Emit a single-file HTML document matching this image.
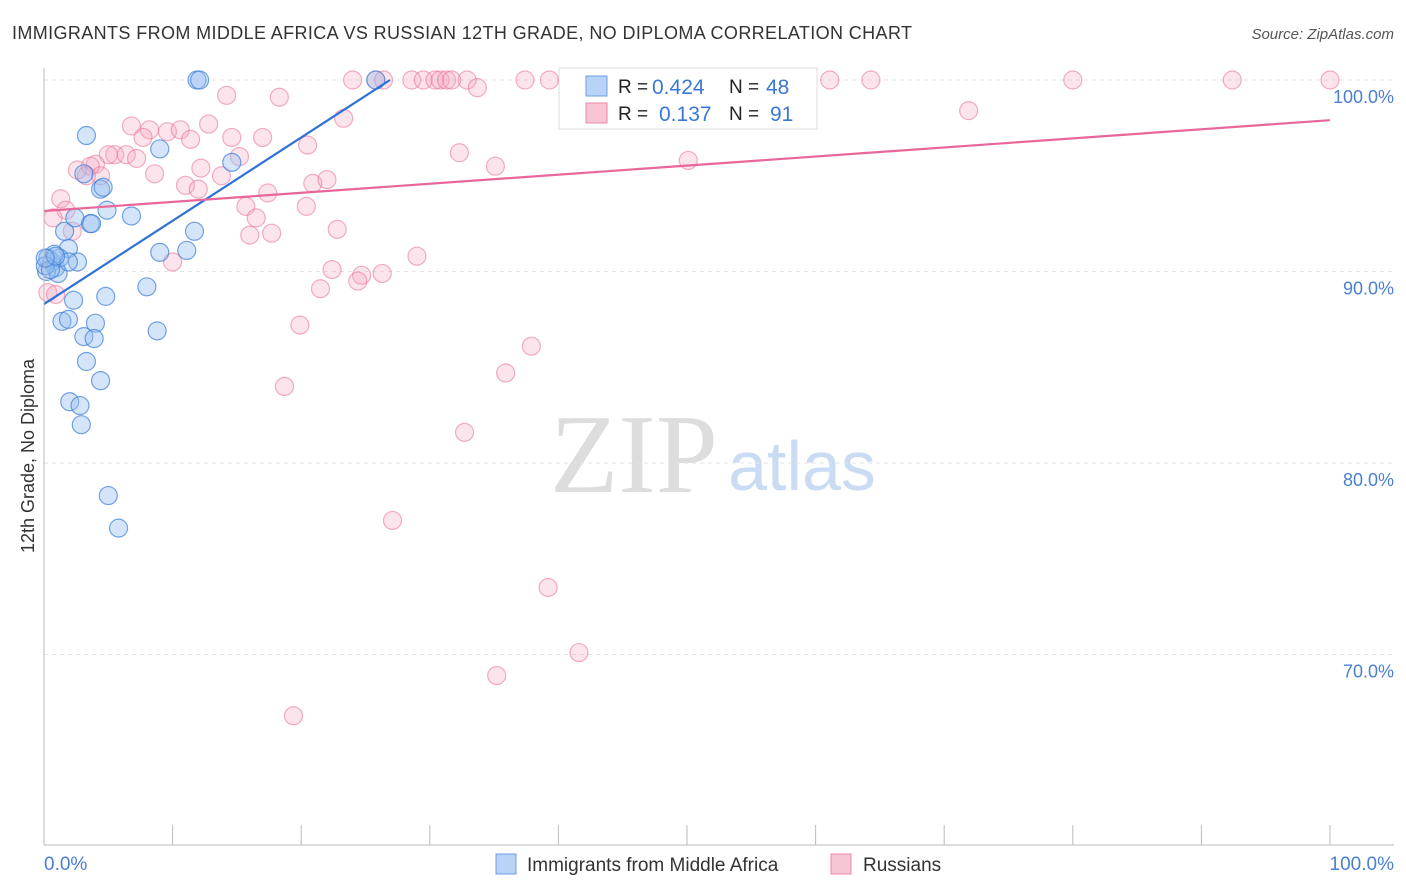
<!DOCTYPE html>
<html><head><meta charset="utf-8"><style>
body{margin:0;background:#fff;font-family:"Liberation Sans",sans-serif;}
#wrap{position:relative;width:1406px;height:892px;overflow:hidden;}
</style></head><body>
<div id="wrap">
<svg id="svg" width="1406" height="892">
<text x="12" y="39" font-size="18" fill="#333" textLength="900" lengthAdjust="spacing">IMMIGRANTS FROM MIDDLE AFRICA VS RUSSIAN 12TH GRADE, NO DIPLOMA CORRELATION CHART</text>
<text x="1394" y="39" font-size="15" fill="#555" font-style="italic" text-anchor="end">Source: ZipAtlas.com</text>
<text x="634" y="492" font-size="112" fill="#ddd" font-family="Liberation Serif,serif" text-anchor="middle">ZIP</text>
<text x="802" y="490" font-size="70" fill="#c9dcf3" text-anchor="middle">atlas</text>
<text transform="translate(34,456) rotate(-90)" font-size="18" fill="#333" text-anchor="middle">12th Grade, No Diploma</text>
<g id="grid"></g><g id="pts"></g><g id="lines"></g>
<line x1="44" y1="68" x2="44" y2="845" stroke="#bbb"/>
<line x1="44" y1="845" x2="1394" y2="845" stroke="#bbb"/>
<text x="44" y="870" font-size="19" fill="#4a7fd4">0.0%</text>
<text x="1394" y="870" font-size="19" fill="#4a7fd4" text-anchor="end">100.0%</text>
<rect x="559" y="68" width="258" height="61" fill="#fff" stroke="#ddd"/>
<rect x="586" y="76" width="21" height="20" fill="#b9d3f6" stroke="#6d9de0"/>
<rect x="586" y="103" width="21" height="20" fill="#f8c5d5" stroke="#ea8aa9"/>
<text x="618" y="93" font-size="19" fill="#222">R =</text>
<text x="652" y="94" font-size="21" fill="#3b78d6">0.424</text>
<text x="729" y="93" font-size="19" fill="#222">N =</text>
<text x="766" y="94" font-size="21" fill="#3b78d6">48</text>
<text x="618" y="120" font-size="19" fill="#222">R =</text>
<text x="659" y="121" font-size="21" fill="#3b78d6">0.137</text>
<text x="729" y="120" font-size="19" fill="#222">N =</text>
<text x="770" y="121" font-size="21" fill="#3b78d6">91</text>
<rect x="496" y="854" width="20" height="20" fill="#b9d3f6" stroke="#6d9de0"/>
<text x="527" y="871" font-size="19" fill="#333">Immigrants from Middle Africa</text>
<rect x="831" y="854" width="20" height="20" fill="#f8c5d5" stroke="#ea8aa9"/>
<text x="863" y="871" font-size="19" fill="#333">Russians</text>
</svg></div>
<script>
const yTicks=[100,90,80,70];
const yTickLabels=["100.0%","90.0%","80.0%","70.0%"];
const xTicks=[0,10,20,30,40,50,60,70,80,90,100];
const blueX=[11.9,12.1,25.8,3.3,9.0,4.4,4.6,3.1,4.9,6.8,3.6,3.7,14.6,11.7,11.1,9.0,1.9,1.6,2.4,0.3,0.6,0.9,1.2,0.2,1.1,2.6,1.9,4.8,8.0,2.3,1.4,1.9,4.0,3.1,3.9,8.8,3.3,4.4,2.0,2.8,2.9,5.0,5.8,0.8,0.1,0.5,0.9,0.1];
const blueY=[100,100,100,97.1,96.4,94.3,94.4,95.1,93.2,92.9,92.5,92.5,95.7,92.1,91.1,91.0,91.2,92.1,92.8,90.7,90.5,90.2,90.7,90.0,89.9,90.5,90.5,88.7,89.2,88.5,87.4,87.5,87.3,86.6,86.5,86.9,85.3,84.3,83.2,83.0,82.0,78.3,76.6,90.9,90.3,90.1,90.8,90.7];
const pinkX=[24.0,25.8,26.4,28.6,29.5,30.4,30.8,31.3,31.7,32.9,37.4,39.3,40.7,47.2,50.1,51.0,51.6,59.4,61.1,64.3,80.0,92.4,100,33.7,71.9,23.3,14.2,18.3,6.8,8.2,9.6,10.6,12.8,7.7,11.4,14.6,17.0,5.5,5.0,6.4,4.0,3.6,7.2,2.6,3.3,4.4,8.6,12.2,13.8,15.2,11.0,12.0,17.4,20.9,22.0,20.5,32.3,35.1,50.1,15.7,16.5,16.0,17.7,20.4,22.8,1.3,1.7,2.2,0.7,10.0,22.4,24.7,24.4,26.3,29.0,21.5,19.9,37.9,35.9,18.7,32.7,27.1,39.2,41.6,35.2,19.4,0.3,0.9];
const pinkY=[100,100,100,100,100,100,100,100,100,100,100,100,100,100,100,100,100,100,100,100,100,100,100,99.6,98.4,98.0,99.2,99.1,97.6,97.4,97.3,97.4,97.7,97.0,96.9,97.0,97.0,96.1,96.1,96.1,95.6,95.5,95.9,95.3,95.0,95.0,95.1,95.4,95.0,96.0,94.5,94.3,94.1,94.6,94.8,96.6,96.2,95.5,95.8,93.4,92.8,91.9,92.0,93.4,92.2,93.8,93.2,92.1,92.8,90.5,90.1,89.8,89.5,89.9,90.8,89.1,87.2,86.1,84.7,84.0,81.6,77.0,73.5,70.1,68.9,66.8,88.9,88.8];
const blueTrend=[[0,88.3],[26.9,100]];
const pinkTrend=[[0,93.16],[100,97.9]];
const NS="http://www.w3.org/2000/svg";
const X=v=>44+v*12.86, Y=v=>80+(100-v)*19.15;
function mk(t,a,p){const e=document.createElementNS(NS,t);for(const k in a)e.setAttribute(k,a[k]);p.appendChild(e);return e;}
const grid=document.getElementById('grid'),pts=document.getElementById('pts'),lines=document.getElementById('lines'),svg=document.getElementById('svg');
yTicks.forEach((t,i)=>{
 const l=mk('line',{x1:44,x2:1394,y1:Y(t),y2:Y(t),stroke:'#e3e3e3','stroke-dasharray':'4 4'},grid);
 
 
 const tx=mk('text',{x:1394,y:Y(t)+23,'font-size':18,fill:'#4a7fd4','text-anchor':'end'},svg);
 tx.textContent=yTickLabels[i];
 
 
});
xTicks.forEach(t=>{
 const l=mk('line',{x1:X(t),x2:X(t),y1:825,y2:845,stroke:'#bbb'},grid);
 
 
});
pinkX.forEach((v,i)=>{
 const c=mk('circle',{cx:X(v),cy:Y(pinkY[i]),r:9,fill:'rgba(244,166,191,0.3)',stroke:'rgba(232,110,150,0.55)','stroke-width':1.2},pts);
 
 
});
blueX.forEach((v,i)=>{
 const c=mk('circle',{cx:X(v),cy:Y(blueY[i]),r:9,fill:'rgba(150,190,240,0.4)',stroke:'rgba(60,125,215,0.7)','stroke-width':1.2},pts);
 
 
});
const bl=mk('line',{x1:X(blueTrend[0][0]),y1:Y(blueTrend[0][1]),x2:X(blueTrend[1][0]),y2:Y(blueTrend[1][1]),stroke:'#2f72d6','stroke-width':2.2},lines);


const pl=mk('line',{x1:X(pinkTrend[0][0]),y1:Y(pinkTrend[0][1]),x2:X(pinkTrend[1][0]),y2:Y(pinkTrend[1][1]),stroke:'#e8669a','stroke-width':2.2},lines);


</script>
</body></html>
